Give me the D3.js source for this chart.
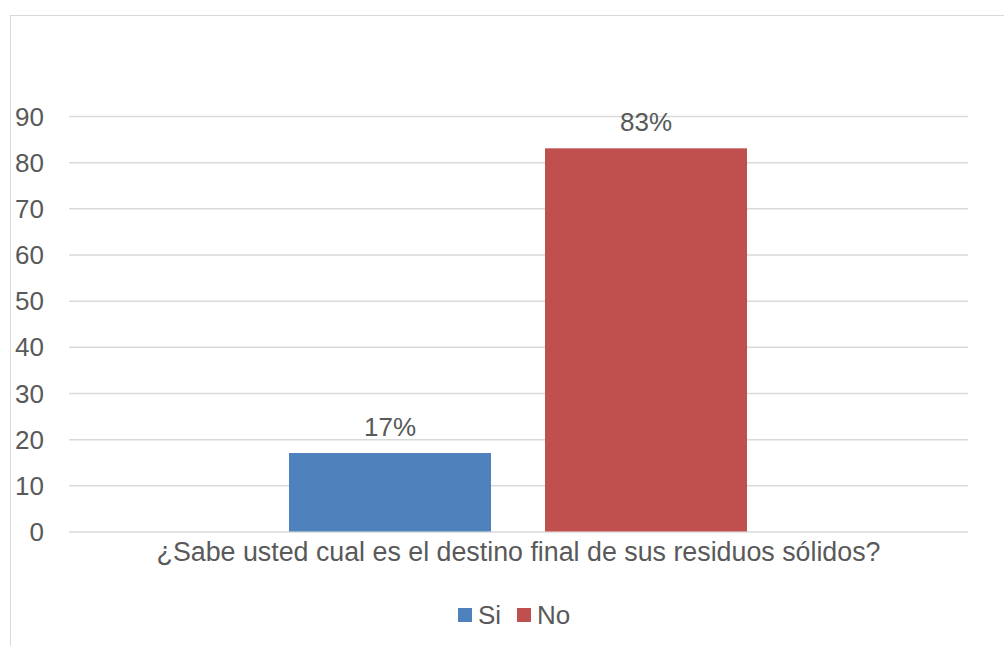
<!DOCTYPE html>
<html><head><meta charset="utf-8">
<script src="https://cdn.jsdelivr.net/npm/d3@7/dist/d3.min.js"></script>
<style>body{margin:0;background:#fff}svg text{font-family:"Liberation Sans",Arial,sans-serif;fill:#595959}</style>
</head><body><svg id="c" width="1004" height="646"></svg>
<script>
const categories = ["¿Sabe usted cual es el destino final de sus residuos sólidos?"];
const seriesNames = ["Si", "No"];
const seriesValues = [17, 83];
const seriesLabels = ["17%", "83%"];
const seriesColors = ["#4f81bd", "#c0504d"];
const yTicks = [0,10,20,30,40,50,60,70,80,90];

const FS = 26;
const svg = d3.select("#c");
// chart border
svg.append("rect").attr("x",10.5).attr("y",15.5).attr("width",1010).attr("height",650)
  .attr("fill","none").attr("stroke","#d9d9d9").attr("stroke-width",1);

const m = {l:69, r:968, t:116, b:531.5};
const y = d3.scaleLinear().domain([0,90]).range([m.b, m.t]);
const x0 = d3.scaleBand().domain(categories).range([m.l, m.r]).paddingInner(0).paddingOuter(0);
// series sub-band: bars 202 wide, 54 gap, centred
const x1 = d3.scaleBand().domain(seriesNames).range([289, 747]).paddingInner(54/256).paddingOuter(0);

// grid
const yAxis = d3.axisLeft(y).tickValues(yTicks).tickSize(-(m.r-m.l)).tickPadding(25);
const g = svg.append("g").attr("transform",`translate(${m.l},0)`).call(yAxis);
g.select(".domain").remove();
g.selectAll(".tick line").attr("stroke","#d9d9d9").attr("stroke-width",1.5);
g.selectAll(".tick text").attr("font-size",FS).style("font-family","'Liberation Sans',Arial,sans-serif").attr("fill","#595959").attr("dy","0.35em");

// bars
const data = seriesNames.map((s,i)=>({s, v:seriesValues[i], l:seriesLabels[i], c:seriesColors[i]}));
const off = x0(categories[0]) - m.l; // 0
svg.selectAll("rect.bar").data(data).enter().append("rect").attr("class","bar")
  .attr("x",d=>x1(d.s)+off).attr("width",x1.bandwidth())
  .attr("y",d=>y(d.v)).attr("height",d=>y(0)-y(d.v)).attr("fill",d=>d.c);
svg.selectAll("text.lbl").data(data).enter().append("text").attr("class","lbl")
  .attr("x",d=>x1(d.s)+off+x1.bandwidth()/2).attr("y",d=>y(d.v)-17)
  .attr("text-anchor","middle").attr("font-size",FS).text(d=>d.l);

// category axis label
svg.append("text").attr("x",x0(categories[0])+x0.bandwidth()/2).attr("y",561)
  .attr("text-anchor","middle").attr("font-size",26.8).text(categories[0]);

// legend
const leg = svg.append("g");
const legX = [458, 517];
data.forEach((d,i)=>{
  leg.append("rect").attr("x",legX[i]).attr("y",608).attr("width",14).attr("height",14).attr("fill",d.c);
  leg.append("text").attr("x",legX[i]+20).attr("y",624).attr("font-size",FS).text(d.s);
});
</script></body></html>
